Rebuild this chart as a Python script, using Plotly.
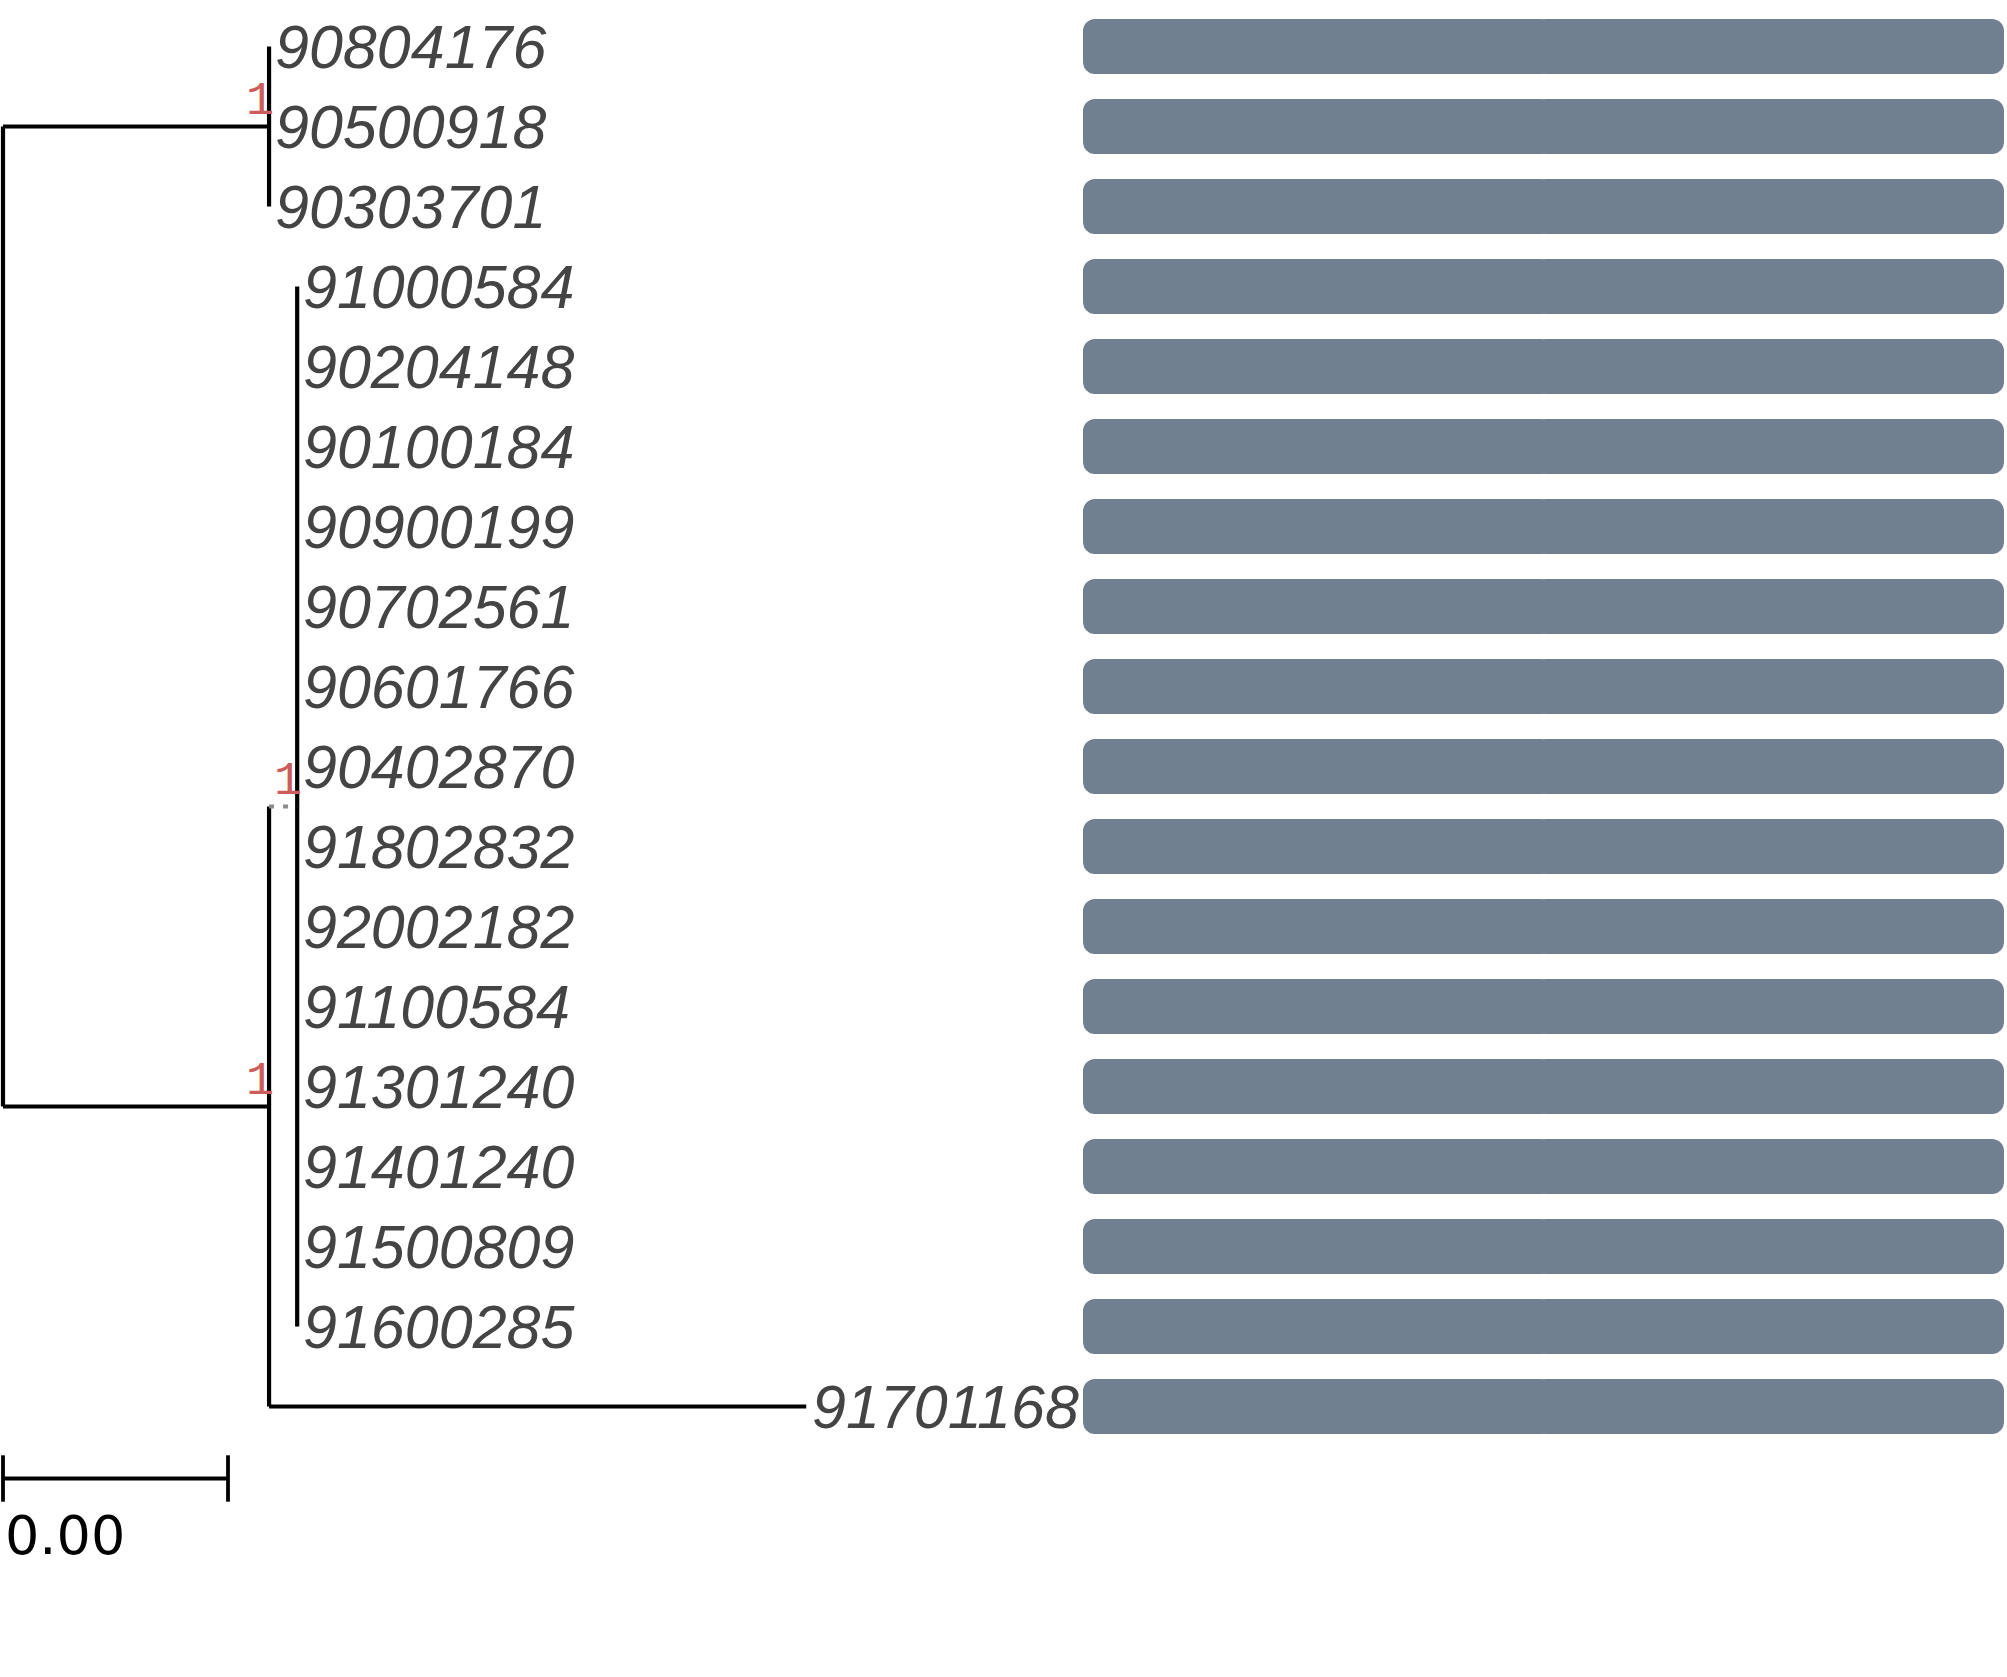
import plotly.graph_objects as go

# tip labels, top to bottom
tip_labels = ["90804176", "90500918", "90303701", "91000584", "90204148", "90100184",
              "90900199", "90702561", "90601766", "90402870", "91802832", "92002182",
              "91100584", "91301240", "91401240", "91500809", "91600285", "91701168"]

# tree topology: internal node -> children
node_children = {
    "root": ["A", "B"],
    "A": tip_labels[0:3],
    "B": ["C", "91701168"],
    "C": tip_labels[3:17],
}
# branch lengths (tips not listed have length 0)
branch_length = {"A": 0.00473, "B": 0.00473, "C": 0.0005, "91701168": 0.00955}
# bootstrap support
support = {"A": 1, "B": 1, "C": 1}

# bar panel values (one per tip)
bar_values = [1, 1, 1, 1, 1, 1, 1, 1, 1, 1, 1, 1, 1, 1, 1, 1, 1, 1]

scale_bar_length = 0.004

W, H = 2007, 1677
row_px = 80.0       # whole pixels so bar edges stay crisp
top_px = 46.5
px_per_unit = 56250.0
left_px = 3.0

# ---- layout of the tree ----
pos_x = {}
pos_y = {}


def place(node, x):
    pos_x[node] = x
    if node in node_children:
        ys = []
        for ch in node_children[node]:
            place(ch, x + branch_length.get(ch, 0.0))
            ys.append(pos_y[ch])
        pos_y[node] = (min(ys) + max(ys)) / 2.0
    else:
        pos_y[node] = tip_labels.index(node)


place("root", 0.0)

solid_x, solid_y = [], []
dot_x, dot_y = [], []
for node, kids in node_children.items():
    ys = [pos_y[k] for k in kids]
    solid_x += [pos_x[node], pos_x[node], None]
    solid_y += [min(ys), max(ys), None]
    for k in kids:
        if branch_length.get(k, 0.0) == 0:
            continue
        if k == "C":
            dot_x += [pos_x[node], pos_x[k], None]
            dot_y += [pos_y[k], pos_y[k], None]
        else:
            solid_x += [pos_x[node], pos_x[k], None]
            solid_y += [pos_y[k], pos_y[k], None]

fig = go.Figure()
fig.add_trace(go.Scatter(x=solid_x, y=solid_y, mode="lines",
                         line=dict(color="black", width=4.2), hoverinfo="skip"))
fig.add_trace(go.Scatter(x=dot_x, y=dot_y, mode="lines",
                         line=dict(color="#8c8c8c", width=4, dash="5px,9px"), hoverinfo="skip"))

# scale bar
sb_y = len(tip_labels) - 1 + 0.9
tick = 0.29
fig.add_trace(go.Scatter(
    x=[0, scale_bar_length, None, 0, 0, None, scale_bar_length, scale_bar_length],
    y=[sb_y, sb_y, None, sb_y - tick, sb_y + tick, None, sb_y - tick, sb_y + tick],
    mode="lines", line=dict(color="black", width=3.8), hoverinfo="skip"))
fig.add_annotation(x=0, y=sb_y + 0.29, text="0.00", showarrow=False,
                   xanchor="left", yanchor="top", xshift=0,
                   font=dict(family="DejaVu Sans", size=54, color="black"))

# bars: drawn as two overlapping halves so both ends get rounded corners
rows = list(range(len(tip_labels)))
half = [v / 2.0 for v in bar_values]
for xs, bs in [([-(h + 0.01) for h in half], [h + 0.01 for h in half]),
               ([h + 0.01 for h in half], [h - 0.01 for h in half])]:
    fig.add_trace(go.Bar(x=xs, base=bs, y=rows,
                         orientation="h", xaxis="x2", yaxis="y", width=55 / row_px,
                         marker=dict(color="#708090", cornerradius=12, line_width=0, opacity=1),
                         opacity=1, hoverinfo="skip"))

# tip labels
for t in tip_labels:
    fig.add_annotation(x=pos_x[t], y=pos_y[t], text="<i>" + t + "</i>", showarrow=False,
                       xanchor="left", yanchor="middle", xshift=4, yshift=0,
                       font=dict(family="Liberation Sans", size=61, color="#444444"))

# support values
for n, s in support.items():
    fig.add_annotation(x=pos_x[n], y=pos_y[n], text=str(s), showarrow=False,
                       xanchor="right", yanchor="bottom", xshift=7, yshift=-3,
                       font=dict(family="Liberation Mono", size=47, color="#CD5C5C"))

y_lo = -top_px / row_px
y_hi = (H - top_px) / row_px
x_lo = -left_px / px_per_unit
x_hi = (W - left_px) / px_per_unit

fig.update_layout(
    width=W, height=H, margin=dict(l=0, r=0, t=0, b=0),
    plot_bgcolor="white", paper_bgcolor="white", showlegend=False,
    barmode="overlay",
    xaxis=dict(range=[x_lo, x_hi], domain=[0, 1], visible=False),
    xaxis2=dict(range=[0, 1], domain=[1083 / W, 2004 / W], anchor="y", visible=False),
    yaxis=dict(range=[y_hi, y_lo], visible=False),
)

fig.write_html("out.html", config={"displayModeBar": False, "staticPlot": True},
               post_script="document.body.style.margin='0';")
